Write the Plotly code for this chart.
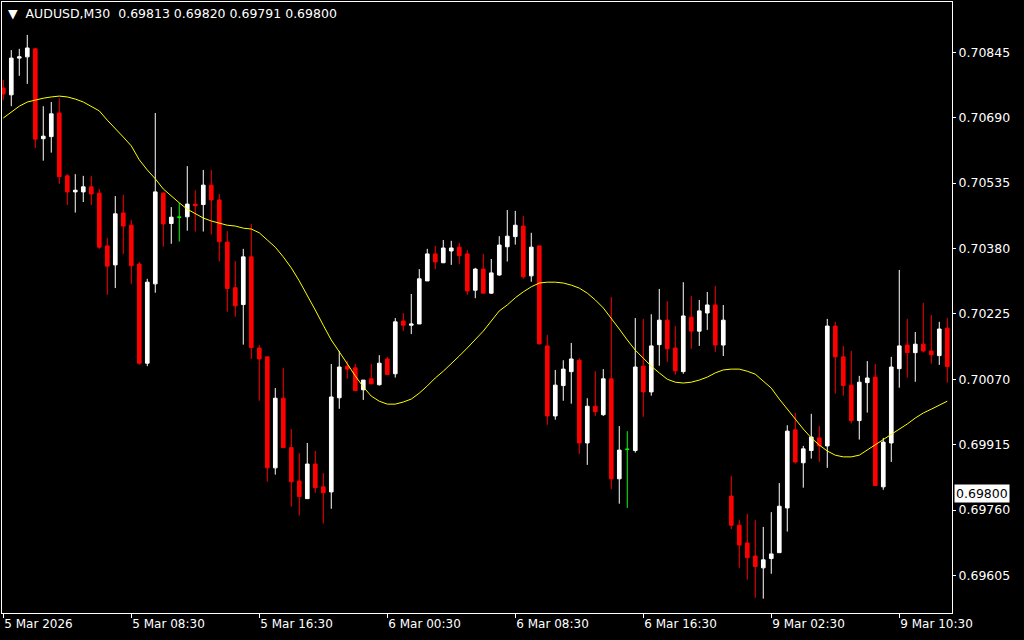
import plotly.graph_objects as go

tick_idx = [0, 16, 32, 48, 64, 80, 96, 112]
tick_labels = ["5 Mar 2026", "5 Mar 08:30", "5 Mar 16:30", "6 Mar 00:30",
               "6 Mar 08:30", "6 Mar 16:30", "9 Mar 02:30", "9 Mar 10:30"]
price_ticks = [0.69605, 0.69760, 0.69915, 0.70070, 0.70225, 0.70380, 0.70535, 0.70690, 0.70845]

open_ = [0.70760, 0.70744, 0.70831, 0.70834, 0.70853, 0.70640, 0.70645, 0.70701, 0.70552, 0.70514,
         0.70514, 0.70526, 0.70511, 0.70386, 0.70341, 0.70464, 0.70435, 0.70343, 0.70108, 0.70296,
         0.70511, 0.70439, 0.70454, 0.70455, 0.70485, 0.70484, 0.70530, 0.70495, 0.70395, 0.70287,
         0.70247, 0.70360, 0.70144, 0.70123, 0.69860, 0.70025, 0.69908, 0.69829, 0.69787, 0.69869,
         0.69815, 0.69803, 0.70026, 0.70101, 0.70097, 0.70045, 0.70071, 0.70057, 0.70118, 0.70083,
         0.70208, 0.70198, 0.70201, 0.70303, 0.70367, 0.70346, 0.70374, 0.70383, 0.70367, 0.70281,
         0.70331, 0.70274, 0.70317, 0.70384, 0.70408, 0.70433, 0.70315, 0.70386, 0.70149, 0.69983,
         0.70055, 0.70088, 0.70115, 0.69919, 0.70006, 0.69986, 0.70071, 0.69834, 0.69904, 0.69901,
         0.70101, 0.70040, 0.70152, 0.70210, 0.70144, 0.70088, 0.70217, 0.70184, 0.70227, 0.70246,
         0.70151, 0.69793, 0.69724, 0.69682, 0.69651, 0.69623, 0.69645, 0.69659, 0.69765, 0.69950,
         0.69872, 0.69901, 0.69931, 0.69912, 0.70196, 0.70123, 0.70056, 0.69972, 0.70062, 0.70075,
         0.69815, 0.69919, 0.70095, 0.70151, 0.70133, 0.70153, 0.70137, 0.70126, 0.70191]

high_ = [0.70779, 0.70850, 0.70853, 0.70886, 0.70855, 0.70717, 0.70727, 0.70736, 0.70556, 0.70556,
         0.70552, 0.70552, 0.70521, 0.70405, 0.70504, 0.70507, 0.70447, 0.70348, 0.70308, 0.70701,
         0.70514, 0.70478, 0.70488, 0.70575, 0.70518, 0.70566, 0.70566, 0.70509, 0.70421, 0.70350,
         0.70379, 0.70438, 0.70151, 0.70123, 0.70049, 0.70097, 0.69952, 0.69895, 0.69919, 0.69900,
         0.69848, 0.70106, 0.70137, 0.70113, 0.70106, 0.70068, 0.70106, 0.70127, 0.70123, 0.70215,
         0.70227, 0.70272, 0.70331, 0.70379, 0.70386, 0.70400, 0.70398, 0.70393, 0.70376, 0.70334,
         0.70367, 0.70355, 0.70409, 0.70471, 0.70469, 0.70457, 0.70417, 0.70386, 0.70175, 0.70092,
         0.70115, 0.70156, 0.70120, 0.70025, 0.70089, 0.70094, 0.70265, 0.69959, 0.69947, 0.70215,
         0.70213, 0.70224, 0.70284, 0.70255, 0.70196, 0.70300, 0.70267, 0.70258, 0.70277, 0.70291,
         0.70246, 0.69841, 0.69736, 0.69751, 0.69736, 0.69720, 0.69755, 0.69824, 0.69961, 0.69990,
         0.69912, 0.69988, 0.69959, 0.70213, 0.70206, 0.70149, 0.70137, 0.70078, 0.70113, 0.70106,
         0.69931, 0.70123, 0.70329, 0.70213, 0.70182, 0.70251, 0.70222, 0.70206, 0.70215]

low_ = [0.70732, 0.70717, 0.70789, 0.70770, 0.70618, 0.70588, 0.70607, 0.70533, 0.70483, 0.70465,
        0.70490, 0.70483, 0.70379, 0.70270, 0.70286, 0.70367, 0.70296, 0.70104, 0.70101, 0.70275,
        0.70384, 0.70391, 0.70396, 0.70422, 0.70420, 0.70420, 0.70413, 0.70349, 0.70230, 0.70218,
        0.70152, 0.70118, 0.70019, 0.69827, 0.69844, 0.69908, 0.69768, 0.69747, 0.69787, 0.69801,
        0.69728, 0.69763, 0.70000, 0.70071, 0.70043, 0.70021, 0.70059, 0.70055, 0.70081, 0.70074,
        0.70184, 0.70177, 0.70201, 0.70303, 0.70331, 0.70346, 0.70341, 0.70343, 0.70270, 0.70262,
        0.70274, 0.70272, 0.70315, 0.70349, 0.70389, 0.70308, 0.70301, 0.70152, 0.69962, 0.69974,
        0.70019, 0.70012, 0.69893, 0.69867, 0.69983, 0.69983, 0.69810, 0.69775, 0.69765, 0.69896,
        0.69981, 0.70031, 0.70102, 0.70111, 0.70081, 0.70083, 0.70142, 0.70149, 0.70187, 0.70135,
        0.70125, 0.69715, 0.69623, 0.69595, 0.69552, 0.69550, 0.69609, 0.69659, 0.69709, 0.69870,
        0.69813, 0.69882, 0.69874, 0.69860, 0.70036, 0.70031, 0.69965, 0.69927, 0.69991, 0.69818,
        0.69808, 0.69874, 0.70050, 0.70074, 0.70064, 0.70133, 0.70107, 0.70104, 0.70062]

close_ = [0.70746, 0.70831, 0.70834, 0.70855, 0.70639, 0.70646, 0.70699, 0.70550, 0.70514, 0.70518,
          0.70526, 0.70509, 0.70383, 0.70338, 0.70462, 0.70433, 0.70339, 0.70108, 0.70300, 0.70514,
          0.70438, 0.70454, 0.70454, 0.70485, 0.70481, 0.70530, 0.70495, 0.70396, 0.70285, 0.70244,
          0.70360, 0.70145, 0.70118, 0.69860, 0.70025, 0.69908, 0.69827, 0.69792, 0.69869, 0.69813,
          0.69801, 0.70028, 0.70099, 0.70094, 0.70043, 0.70068, 0.70059, 0.70108, 0.70081, 0.70206,
          0.70198, 0.70201, 0.70308, 0.70367, 0.70348, 0.70381, 0.70381, 0.70363, 0.70279, 0.70331,
          0.70274, 0.70322, 0.70388, 0.70409, 0.70435, 0.70313, 0.70383, 0.70154, 0.69983, 0.70056,
          0.70094, 0.70118, 0.69919, 0.70006, 0.69993, 0.70071, 0.69834, 0.69902, 0.69904, 0.70099,
          0.70040, 0.70149, 0.70210, 0.70142, 0.70090, 0.70220, 0.70184, 0.70232, 0.70246, 0.70151,
          0.70210, 0.69724, 0.69677, 0.69647, 0.69626, 0.69642, 0.69656, 0.69769, 0.69947, 0.69874,
          0.69905, 0.69933, 0.69912, 0.70196, 0.70123, 0.70055, 0.69972, 0.70063, 0.70073, 0.69818,
          0.69921, 0.70099, 0.70149, 0.70133, 0.70153, 0.70137, 0.70128, 0.70189, 0.70100]

ma_ = [0.70689, 0.70703, 0.70717, 0.70727, 0.70732, 0.70736, 0.70739, 0.70741, 0.70739, 0.70734,
       0.70727, 0.70717, 0.70706, 0.70684, 0.70665, 0.70644, 0.70623, 0.70590, 0.70566, 0.70545,
       0.70521, 0.70504, 0.70488, 0.70473, 0.70462, 0.70452, 0.70445, 0.70440, 0.70435, 0.70433,
       0.70428, 0.70426, 0.70417, 0.70400, 0.70383, 0.70360, 0.70334, 0.70303, 0.70270, 0.70234,
       0.70198, 0.70163, 0.70135, 0.70106, 0.70078, 0.70052, 0.70030, 0.70018, 0.70011, 0.70011,
       0.70016, 0.70023, 0.70037, 0.70054, 0.70073, 0.70089, 0.70106, 0.70125, 0.70144, 0.70163,
       0.70184, 0.70208, 0.70232, 0.70246, 0.70263, 0.70277, 0.70289, 0.70298, 0.70300, 0.70300,
       0.70298, 0.70293, 0.70286, 0.70274, 0.70258, 0.70239, 0.70215, 0.70189, 0.70163, 0.70139,
       0.70120, 0.70101, 0.70085, 0.70070, 0.70063, 0.70061, 0.70063, 0.70068, 0.70075, 0.70085,
       0.70092, 0.70094, 0.70094, 0.70089, 0.70082, 0.70066, 0.70049, 0.70023, 0.69999, 0.69976,
       0.69952, 0.69931, 0.69914, 0.69900, 0.69890, 0.69886, 0.69886, 0.69890, 0.69902, 0.69914,
       0.69926, 0.69938, 0.69952, 0.69964, 0.69978, 0.69990, 0.69999, 0.70009, 0.70018]

title_text = "▼&nbsp; AUDUSD,M30&nbsp; 0.69813 0.69820 0.69791 0.69800"
current_price = 0.69800

FONT = "DejaVu Sans"
idx = list(range(len(open_)))
normal = [i for i in idx if open_[i] != close_[i]]
doji = [i for i in idx if open_[i] == close_[i]]

fig = go.Figure()
fig.add_trace(go.Candlestick(
    x=normal,
    open=[open_[i] for i in normal], high=[high_[i] for i in normal],
    low=[low_[i] for i in normal], close=[close_[i] for i in normal],
    increasing=dict(line=dict(color="#ffffff", width=1), fillcolor="#ffffff"),
    decreasing=dict(line=dict(color="#ff0000", width=1), fillcolor="#ff0000"),
    whiskerwidth=0, hoverinfo="skip", showlegend=False))
fig.add_trace(go.Candlestick(
    x=doji,
    open=[open_[i] for i in doji], high=[high_[i] for i in doji],
    low=[low_[i] for i in doji], close=[close_[i] for i in doji],
    increasing=dict(line=dict(color="#00ff00", width=1), fillcolor="#00ff00"),
    decreasing=dict(line=dict(color="#00ff00", width=1), fillcolor="#00ff00"),
    whiskerwidth=0, hoverinfo="skip", showlegend=False))
fig.add_trace(go.Scatter(x=idx, y=ma_, mode="lines",
                         line=dict(color="#ffff00", width=1),
                         hoverinfo="skip", showlegend=False))

fig.update_layout(
    width=1024, height=640,
    margin=dict(l=2, r=72, t=2, b=27),
    paper_bgcolor="#000000", plot_bgcolor="#000000",
    showlegend=False, boxgap=0.35,
    font=dict(family=FONT, size=12, color="#ffffff"),
    xaxis=dict(range=[-0.16, 118.59], rangeslider=dict(visible=False),
               showgrid=False, zeroline=False, showline=True, linecolor="#ffffff",
               linewidth=1, mirror=True, tickmode="array", tickvals=tick_idx,
               ticktext=tick_labels, ticks="outside", ticklen=4, tickcolor="#ffffff",
               ticklabelposition="outside right",
               tickfont=dict(family=FONT, size=12, color="#ffffff"), fixedrange=True),
    yaxis=dict(side="right", range=[0.69516, 0.70964], showgrid=False, zeroline=False,
               showline=True, linecolor="#ffffff", linewidth=1, mirror=True,
               tickmode="array", tickvals=price_ticks, tickformat=".5f",
               ticks="outside", ticklen=3, tickcolor="#ffffff",
               tickfont=dict(family=FONT, size=12.5, color="#ffffff"), fixedrange=True),
    annotations=[
        dict(xref="paper", yref="paper", x=0, y=1, xanchor="left", yanchor="top",
             xshift=4, yshift=-2, text=title_text, showarrow=False,
             font=dict(family=FONT, size=12.5, color="#ffffff")),
        dict(xref="paper", yref="y", x=1, y=current_price, xanchor="left", yanchor="middle",
             xshift=2, text="0.69800", showarrow=False, bgcolor="#ffffff", borderpad=1,
             font=dict(family=FONT, size=12.5, color="#000000")),
    ],
)

fig.write_html("out.html", config={"displayModeBar": False},
               post_script="document.body.style.margin='0';")
